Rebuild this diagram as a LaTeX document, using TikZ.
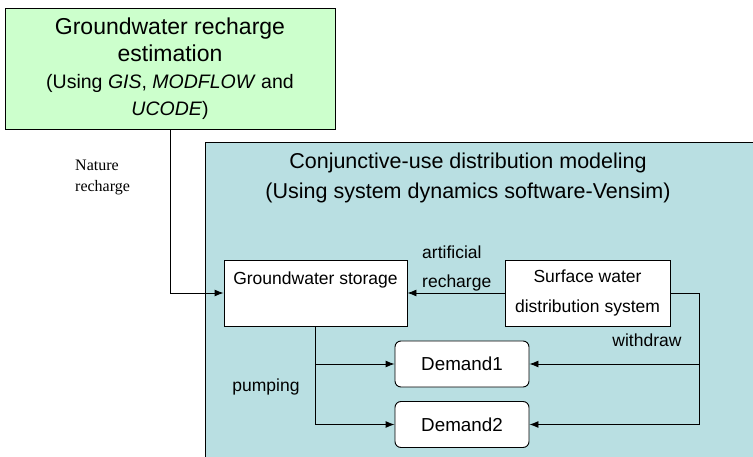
\documentclass[tikz,border=0pt]{standalone}
\usepackage{fontspec}
\setmainfont{Liberation Sans}
\newfontfamily\natfont{Liberation Serif}
\usetikzlibrary{arrows.meta}
\definecolor{estgreen}{RGB}{204,255,204}
\definecolor{modelcyan}{RGB}{185,223,226}

\begin{document}
\begin{tikzpicture}[x=1pt,y=-1pt,>={Latex[length=9pt,width=7pt]}]
    \useasboundingbox (0,0) rectangle (753,457);

    \begin{scope}[every node/.style={draw,line width=0.9pt,inner sep=0pt,align=center}]
        \node[fill=estgreen,minimum width=330,minimum height=121,font=\fontsize{23}{27}\selectfont] (est) at (170,68.5)
            {Groundwater recharge\\estimation\\{\fontsize{19.5}{26}\selectfont (Using \textit{GIS}, \textit{MODFLOW} and}\\{\fontsize{19.5}{26}\selectfont\textit{UCODE})}};
        \node[fill=modelcyan,anchor=north west,minimum width=570,minimum height=330] (model) at (205,142) {};
        \node[fill=white,minimum width=183,minimum height=66,font=\fontsize{17.5}{30}\selectfont] (gws) at (315.5,293) {Groundwater storage\\\mbox{}};
        \node[fill=white,minimum width=165,minimum height=66,font=\fontsize{17.5}{30}\selectfont] (sws) at (587.5,293) {Surface water\\distribution system};
        \node[fill=white,rounded corners=6pt,minimum width=134,minimum height=46,font=\fontsize{18.8}{22}\selectfont] (d1) at (462,364) {Demand1};
        \node[fill=white,rounded corners=6pt,minimum width=134,minimum height=46,font=\fontsize{18.8}{22}\selectfont] (d2) at (462,424.5) {Demand2};
    \end{scope}

    % labels %
    \begin{scope}[every node/.style={inner sep=0pt,font=\fontsize{17.5}{29}\selectfont}]
        \node[align=center,font=\fontsize{21.5}{30}\selectfont] (title) at (468,178) {Conjunctive-use distribution modeling\\(Using system dynamics software-Vensim)};
        \node[align=left,anchor=west] (art) at (422,268.5) {artificial\\recharge};
        \node (wd) at (647,340) {withdraw};
        \node (pump) at (266,387) {pumping};
        \node[align=left,anchor=west,font=\natfont\fontsize{16}{21}\selectfont] (nat) at (75,177.5) {Nature\\recharge};
    \end{scope}

    \coordinate (bend) at (699,293);

    \begin{scope}[line width=0.9pt]
        \draw[->] (est.south) |- (gws.west);
        \draw[->] (sws.west) -- (gws.east);
        \draw[->] (sws.east) -- (bend) |- (d2.east);
        \draw[->] (bend |- d1.east) -- (d1.east);
        \draw[->] (gws.south) |- (d2.west);
        \draw[->] (gws.south |- d1.west) -- (d1.west);
    \end{scope}

\end{tikzpicture}
\end{document}
